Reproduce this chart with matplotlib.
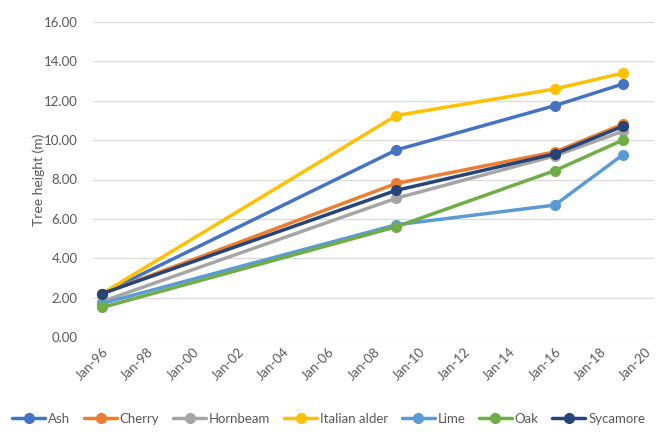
import matplotlib
matplotlib.use("Agg")
import matplotlib.pyplot as plt
import datetime as dt

dates = ["1996-01-01", "2009-01-01", "2016-01-01", "2019-01-01"]
series_names = ["Ash", "Cherry", "Hornbeam", "Italian alder", "Lime", "Oak", "Sycamore"]
ash = [2.20, 9.50, 11.75, 12.85]
cherry = [2.20, 7.80, 9.40, 10.80]
hornbeam = [1.80, 7.05, 9.20, 10.45]
italian_alder = [2.20, 11.25, 12.60, 13.40]
lime = [1.70, 5.70, 6.70, 9.25]
oak = [1.50, 5.60, 8.45, 10.00]
sycamore = [2.20, 7.45, 9.30, 10.70]
colors = ["#4472C4", "#ED7D31", "#A5A5A5", "#FFC000", "#5B9BD5", "#70AD47", "#264478"]
tick_years = list(range(1996, 2021, 2))

plt.rcParams['font.family'] = ['Lato', 'DejaVu Sans']
txt = "#595959"

fig = plt.figure(figsize=(6.71, 4.34), dpi=100)
ax = fig.add_axes([93/671, 1-337/434, (654-93)/671, (337-22)/434])

x = [dt.datetime.strptime(d, "%Y-%m-%d") for d in dates]
values = [ash, cherry, hornbeam, italian_alder, lime, oak, sycamore]
for name, v, c in zip(series_names, values, colors):
    ax.plot(x, v, color=c, lw=2.5, marker='o', ms=7, label=name,
            solid_capstyle='round', zorder=3)

ax.set_ylim(0, 16)
ax.set_yticks(range(0, 17, 2))
ax.set_yticklabels([f"{t:.2f}" for t in range(0, 17, 2)])
ax.set_xlim(dt.datetime(1995, 8, 10), dt.datetime(2020, 5, 20))
ticks = [dt.datetime(y, 1, 1) for y in tick_years]
ax.set_xticks(ticks)
ax.set_xticklabels([t.strftime("Jan-%y") for t in ticks], rotation=45,
                   ha='right', rotation_mode='anchor')
ax.grid(axis='y', color='#D9D9D9', lw=0.9)
ax.set_axisbelow(True)
for s in ax.spines.values():
    s.set_visible(False)
ax.tick_params(axis='both', length=0, colors=txt, labelsize=9.5)
ax.tick_params(axis='y', pad=11)
ax.tick_params(axis='x', pad=6)
ax.set_ylabel("Tree height (m)", color=txt, fontsize=10, labelpad=-1)

fig.legend(loc='center', bbox_to_anchor=(0.49, 1-419/434), ncol=7, frameon=False,
           fontsize=9.5, handlelength=2.5, handletextpad=0.2, columnspacing=1.05,
           labelcolor=txt)

fig.savefig("out.png", dpi=100)
